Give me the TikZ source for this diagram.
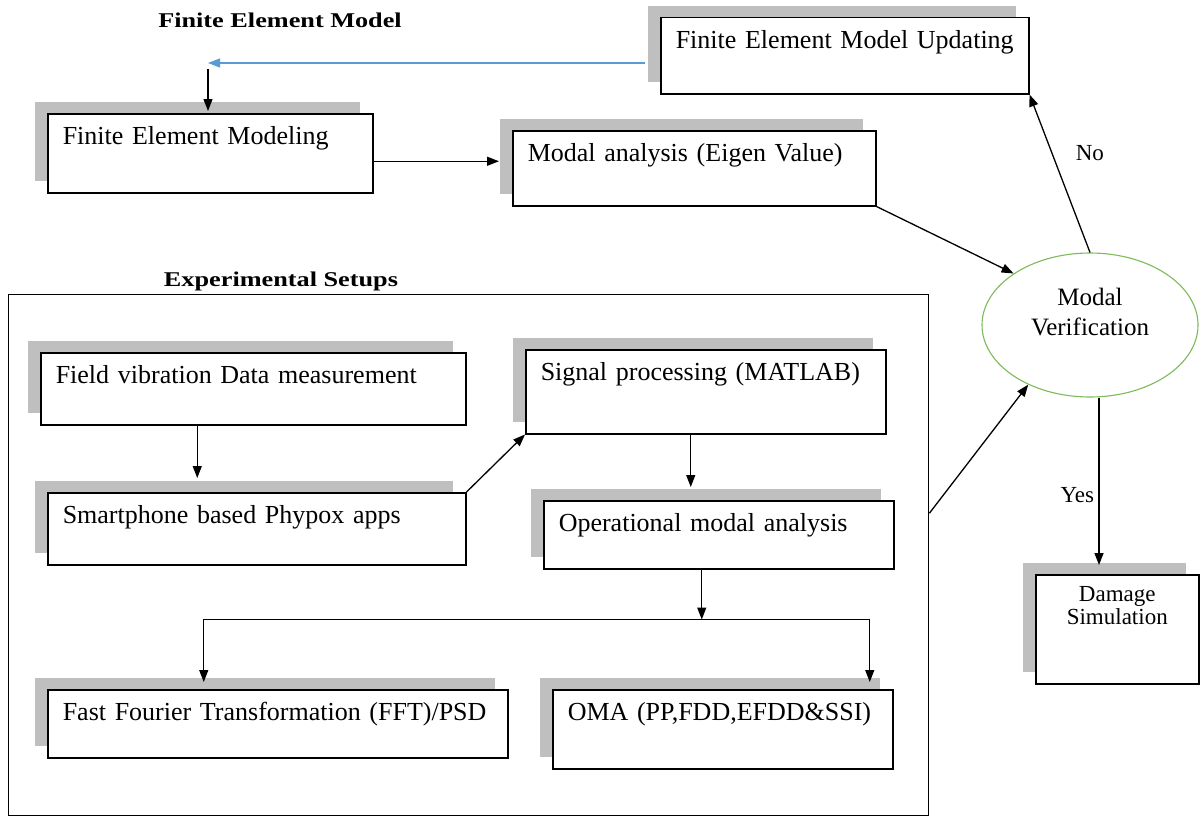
\documentclass[tikz,border=0pt]{standalone}
\usepackage{fontspec}
\setmainfont{Liberation Serif}
\usepackage{tikz}
\usetikzlibrary{arrows.meta,shapes.geometric,shadows}
\definecolor{shadegray}{HTML}{BFBFBF}
\definecolor{linkblue}{HTML}{5B9BD5}
\definecolor{verifgreen}{HTML}{7DBB5A}

\begin{document}
\begin{tikzpicture}[x=1pt,y=-1pt,
 box/.style={draw,line width=1.5pt,fill=white,anchor=north west,align=left,inner xsep=15pt,inner ysep=0pt,text height=31pt,font=\fontsize{26}{30}\selectfont,
  drop shadow={shadow xshift=-13pt,shadow yshift=12pt,fill=shadegray,opacity=1}},
 ttl/.style={font=\bfseries\fontsize{21}{24}\selectfont},
 lbl/.style={font=\fontsize{23}{26}\selectfont},
 arr/.style={-{Triangle[length=12pt,width=9pt]},line width=1.3pt},
 verif/.style={ellipse,draw=verifgreen,line width=1.1pt,minimum width=216pt,minimum height=144pt,inner sep=0pt}]
\path[use as bounding box,fill=white] (0,0) rectangle (1201,816);

\node[ttl] (fetitle) at (280,20) {\scalebox{1.25}[1]{Finite Element Model}};
\node[box,text width=338pt,text depth=45pt] (femu) at (660,17) {Finite Element Model Updating};
\node[box,text width=295pt,text depth=48pt] (fem) at (47,113) {Finite Element Modeling};
\node[box,text width=333pt,text depth=44pt] (ma) at (512,130) {Modal analysis (Eigen Value)};
\node[verif,label={[yshift=13pt,align=center,font=\fontsize{25}{30}\selectfont]center:Modal\\Verification}] (mv) at (1090,325) {};
\node[box,align=center,text width=133pt,text height=27pt,text depth=82pt,font=\fontsize{23}{23}\selectfont] (dmg) at (1035,574) {Damage\\Simulation};

\node[draw,line width=1.4pt,anchor=north west,minimum width=920pt,minimum height=521pt,inner sep=0pt] (exp) at (8,294) {};
\node[ttl] (exptitle) at (281,281) {\scalebox{1.25}[1]{Experimental Setups}};
\node[box,text width=395pt,text depth=41pt] (field) at (40,352) {Field vibration Data measurement};
\node[box,text width=388pt,text depth=41pt] (sp) at (47,492) {Smartphone based Phypox apps};
\node[box,text width=330pt,text depth=53pt] (sig) at (525,349) {Signal processing (MATLAB)};
\node[box,text width=320pt,text depth=37pt] (op) at (543,500) {Operational modal analysis};
\node[box,text width=430pt,text depth=37pt] (fft) at (47,689) {Fast Fourier Transformation (FFT)/PSD};
\node[box,text width=310pt,text depth=48pt] (oma) at (552,689) {OMA (PP,FDD,EFDD\&SSI)};

\coordinate (jn) at (208,63);
\coordinate (split) at ([xshift=-17pt,yshift=-50pt]op.south);
\draw[arr,draw=linkblue,fill=linkblue] ([xshift=-15pt]femu.west |- jn) -- (jn);
\draw[arr,shorten >=2pt] ([yshift=-6pt]jn) -- (jn |- fem.north);
\draw[arr,shorten >=13pt] ([yshift=-8pt]fem.east) -- ([yshift=-8pt]fem.east -| ma.west);
\draw[arr] (ma.south east) -- (mv.146);
\draw[arr] (mv.north) -- (femu.south east) node[lbl,pos=.63,right=20pt] {No};
\draw[arr,shorten >=9pt] ([xshift=9pt]mv.south) -- ([xshift=9pt]mv.south |- dmg.north) node[lbl,pos=.55,left=1pt] {Yes};
\draw[arr] ([yshift=42pt]exp.east) -- (mv.224);
\draw[arr,shorten >=14pt] ([xshift=-56pt]field.south) -- ([xshift=-56pt]field.south |- sp.north);
\draw[arr] (sp.north east) -- (sig.south west);
\draw[arr,shorten >=13pt] ([xshift=-15pt]sig.south) -- ([xshift=-15pt]sig.south |- op.north);
\draw[arr] ([xshift=-17pt]op.south) -- (split);
\draw[arr,shorten >=7pt] (split) -| ([xshift=-74pt]fft.north);
\draw[arr,shorten >=7pt] (split) -| ([xshift=147pt]oma.north);
\end{tikzpicture}
\end{document}
